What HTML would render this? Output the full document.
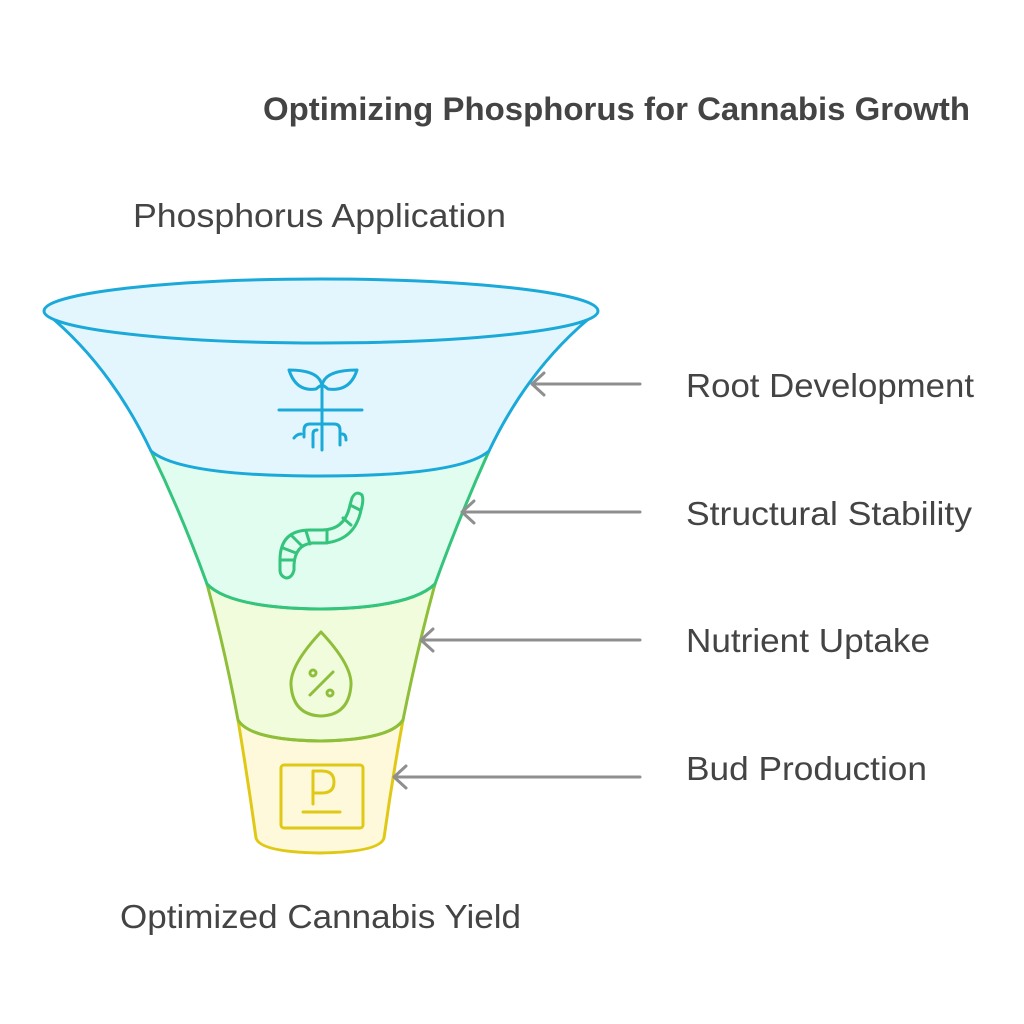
<!DOCTYPE html>
<html><head><meta charset="utf-8"><style>
html,body{margin:0;padding:0;background:#fff;}
svg{display:block;}
text{font-family:"Liberation Sans",sans-serif;fill:#444;}
</style></head><body>
<svg width="1024" height="1024" viewBox="0 0 1024 1024" xmlns="http://www.w3.org/2000/svg">
<text x="263" y="120" font-size="32" font-weight="bold" textLength="707" lengthAdjust="spacingAndGlyphs">Optimizing Phosphorus for Cannabis Growth</text>
<text x="133" y="227" font-size="33" textLength="373" lengthAdjust="spacingAndGlyphs">Phosphorus Application</text>
<text x="120" y="928" font-size="33" textLength="401" lengthAdjust="spacingAndGlyphs">Optimized Cannabis Yield</text>
<text x="686" y="397" font-size="33" textLength="288" lengthAdjust="spacingAndGlyphs">Root Development</text>
<text x="686" y="525" font-size="33" textLength="286" lengthAdjust="spacingAndGlyphs">Structural Stability</text>
<text x="686" y="652" font-size="33" textLength="244" lengthAdjust="spacingAndGlyphs">Nutrient Uptake</text>
<text x="686" y="780" font-size="33" textLength="241" lengthAdjust="spacingAndGlyphs">Bud Production</text>

<g stroke-width="3" stroke-linejoin="round" stroke-linecap="round">
<path d="M238 720 Q248 780 256 838 Q260 852 320 853 Q380 852 384 838 Q392 780 403 720 Z" fill="#fef9db" stroke="#e0c916"/>
<path d="M207 584 Q225 650 238 720 Q250 740 320 741 Q390 740 403 720 Q417 650 435 584 Z" fill="#f1fcdc" stroke="#8fbf3a"/>
<path d="M151 451 Q182 515 207 584 Q230 608 320 609 Q410 608 435 584 Q460 515 489 451 Z" fill="#e0fdf0" stroke="#34c47c"/>
<path d="M207 584 Q230 608 320 609 Q410 608 435 584" fill="none" stroke="#34c47c"/>
<path d="M238 720 Q250 740 320 741 Q390 740 403 720" fill="none" stroke="#8fbf3a"/>
<path d="M45 312 Q110 365 151 451 Q180 476 320 476 Q460 476 489 451 Q530 365 597 312 Z" fill="#e4f6fd" stroke="#1aa9d9"/>
<ellipse cx="321" cy="311" rx="277" ry="32" fill="#e4f6fd" stroke="#1aa9d9"/>
</g>

<g fill="none" stroke="#1aa9d9" stroke-width="3" stroke-linecap="round" stroke-linejoin="round">
<path d="M322 386 V450"/><path d="M279 410 H362"/>
<path d="M322 386 Q320 370 289 370 Q296 392 316 389 Q322 384 322 386"/>
<path d="M322 386 Q324 370 357 370 Q350 392 328 389 Q322 384 322 386"/>
<path d="M304 437 V430 Q304 424 310 424 H334 Q340 424 340 430 V445"/>
<path d="M313 447 V434 Q313 430 317 430"/>
<path d="M294 438 Q297 434 301 434"/>
<path d="M342 434 Q346 434 346 440"/>
</g>
<g fill="none" stroke="#34c47c" stroke-width="3" stroke-linecap="round" stroke-linejoin="round">
<path d="M280 570 V560 Q280 530 310 530 H322 Q345 530 350 505 L352 498 Q356 490 362 495 Q364 500 361 510 Q355 540 325 543 H312 Q295 545 294 565 V570 Q292 578 286 578 Q280 576 280 570 Z"/>
<path d="M280 560 H294"/><path d="M283 548 L296 553"/><path d="M292 536 L302 546"/><path d="M306 531 L310 544"/><path d="M327 530 L327 543"/><path d="M343 518 L351 525"/><path d="M350 505 L360 510"/>
</g>
<g fill="none" stroke="#8fbf3a" stroke-width="3" stroke-linecap="round" stroke-linejoin="round">
<path d="M321 632 Q290 665 291 685 Q293 715 321 716 Q349 715 351 685 Q352 665 321 632 Z"/>
<circle cx="313" cy="673" r="3"/><circle cx="330" cy="693" r="3"/><path d="M310 695 L333 672"/>
</g>
<g fill="none" stroke="#e0c916" stroke-width="3" stroke-linecap="round" stroke-linejoin="round">
<rect x="281" y="765" width="82" height="63" rx="3"/>
<path d="M313 804 V771 H322 Q334 771 334 782 Q334 793 322 793 H313"/>
<path d="M303 812 H340"/>
</g>

<g fill="none" stroke="#8f8f8f" stroke-width="3" stroke-linecap="round" stroke-linejoin="round">
<path d="M640 384 H533"/><path d="M544 373 L532 384 L544 395"/>
<path d="M640 512 H463"/><path d="M474 501 L462 512 L474 523"/>
<path d="M640 640 H422"/><path d="M433 629 L421 640 L433 651"/>
<path d="M640 777 H395"/><path d="M406 766 L394 777 L406 788"/>
</g>
</svg>
</body></html>
